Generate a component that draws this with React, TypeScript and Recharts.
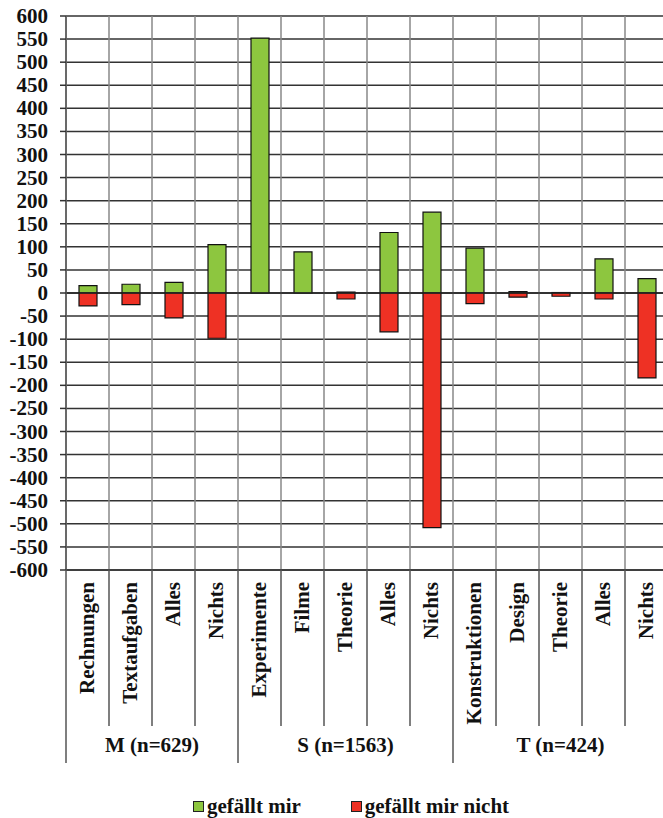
import React from 'react';
import { BarChart, Bar, XAxis, YAxis, CartesianGrid, Legend, ReferenceLine } from 'recharts';

// Kategorien je Fach (M, S, T)
const categories = [
  'Rechnungen', 'Textaufgaben', 'Alles', 'Nichts',
  'Experimente', 'Filme', 'Theorie', 'Alles', 'Nichts',
  'Konstruktionen', 'Design', 'Theorie', 'Alles', 'Nichts',
];
const gefaelltMir = [16, 19, 23, 105, 552, 89, 2, 131, 175, 97, 3, 1, 74, 31];
const gefaelltMirNicht = [-28, -25, -54, -98, 0, 0, -13, -84, -508, -23, -9, -7, -13, -184];

const groupLabels = ['M (n=629)', 'S (n=1563)', 'T (n=424)'];
const groupSizes = [4, 5, 5];

const yTicks = [
  -600, -550, -500, -450, -400, -350, -300, -250, -200, -150, -100, -50, 0,
  50, 100, 150, 200, 250, 300, 350, 400, 450, 500, 550, 600,
];

const seriesNames = ['gefällt mir', 'gefällt mir nicht'];
const GREEN = '#8DC63F';
const RED = '#EE3124';
const FONT = "'Liberation Serif', 'DejaVu Serif', serif";

const data = categories.map((name, i) => ({
  name,
  mir: gefaelltMir[i],
  nicht: gefaelltMirNicht[i],
}));

const groupStarts = groupSizes.map((_, i) => groupSizes.slice(0, i).reduce((a, b) => a + b, 0));

const textStyle = { fontFamily: FONT, fontWeight: 700 };

const CategoryTick = (props: any) => {
  const { x, y, payload, index, width } = props;
  const half = payload.offset || width / categories.length / 2;
  const left = x - half;
  const gi = groupStarts.indexOf(index);
  const isLast = index === categories.length - 1;
  return (
    <g>
      <line x1={left} y1={y} x2={left} y2={y + (gi >= 0 ? 193 : 156)} stroke="#555" strokeWidth={1.5} />
      {isLast && (
        <line x1={x + half} y1={y} x2={x + half} y2={y + 193} stroke="#555" strokeWidth={1.5} />
      )}
      <text
        x={x + 6}
        y={y + 12}
        transform={`rotate(-90 ${x + 6} ${y + 12})`}
        textAnchor="end"
        style={textStyle}
        fontSize={21}
        fill="#111"
      >
        {payload.value}
      </text>
      {gi >= 0 && (
        <text
          x={left + groupSizes[gi] * half}
          y={y + 175}
          textAnchor="middle"
          dominantBaseline="central"
          style={textStyle}
          fontSize={21}
          fill="#111"
        >
          {groupLabels[gi]}
        </text>
      )}
    </g>
  );
};

const YTick = (props: any) => {
  const { x, y, payload } = props;
  return (
    <text x={x} y={y} textAnchor="end" dominantBaseline="central" style={textStyle} fontSize={21} fill="#111">
      {payload.value}
    </text>
  );
};

const LegendContent = (props: any) => {
  const { payload } = props;
  return (
    <div
      style={{
        display: 'flex',
        justifyContent: 'center',
        alignItems: 'center',
        gap: 50,
        height: 24,
        fontFamily: FONT,
        fontWeight: 700,
        fontSize: 21,
        color: '#111',
      }}
    >
      {(payload || []).map((p: any) => (
        <span key={p.value} style={{ display: 'flex', alignItems: 'center' }}>
          <span
            style={{
              display: 'inline-block',
              width: 9,
              height: 9,
              background: p.color,
              border: '1px solid #222',
              marginRight: 3,
            }}
          />
          {p.value}
        </span>
      ))}
    </div>
  );
};

export default function App() {
  return (
    <div
      style={{
        position: 'absolute',
        left: 0,
        top: 0,
        width: 663,
        height: 818,
        overflow: 'hidden',
        background: '#fff',
      }}
    >
      <BarChart
        width={670}
        height={818}
        data={data}
        stackOffset="sign"
        barSize={18}
        margin={{ top: 16, right: 2, bottom: 0, left: 0 }}
      >
        <CartesianGrid vertical={false} stroke="#333" strokeWidth={1.5} />
        <CartesianGrid
          horizontal={false}
          stroke="#888"
          strokeWidth={1.5}
          verticalCoordinatesGenerator={({ offset }: any) =>
            categories.map((_, i) => offset.left + (i * offset.width) / categories.length)
          }
        />
        <XAxis
          dataKey="name"
          interval={0}
          height={224}
          tickSize={0}
          tickMargin={0}
          tickLine={false}
          axisLine={{ stroke: '#333', strokeWidth: 1.5 }}
          tick={<CategoryTick />}
        />
        <YAxis
          type="number"
          domain={[-600, 600]}
          ticks={yTicks}
          interval={0}
          width={66}
          tickSize={6}
          tickMargin={12}
          tickLine={{ stroke: '#333', strokeWidth: 1.5 }}
          axisLine={{ stroke: '#555', strokeWidth: 1.5 }}
          tick={<YTick />}
          allowDataOverflow
        />
        <ReferenceLine y={0} stroke="#222" strokeWidth={1.5} />
        <Legend
          verticalAlign="bottom"
          content={<LegendContent />}
          wrapperStyle={{ left: 0, width: 702, height: 24 }}
        />
        <Bar
          dataKey="mir"
          name={seriesNames[0]}
          stackId="a"
          fill={GREEN}
          stroke="#111"
          strokeWidth={1.2}
          isAnimationActive={false}
        />
        <Bar
          dataKey="nicht"
          name={seriesNames[1]}
          stackId="a"
          fill={RED}
          stroke="#111"
          strokeWidth={1.2}
          isAnimationActive={false}
        />
      </BarChart>
    </div>
  );
}
